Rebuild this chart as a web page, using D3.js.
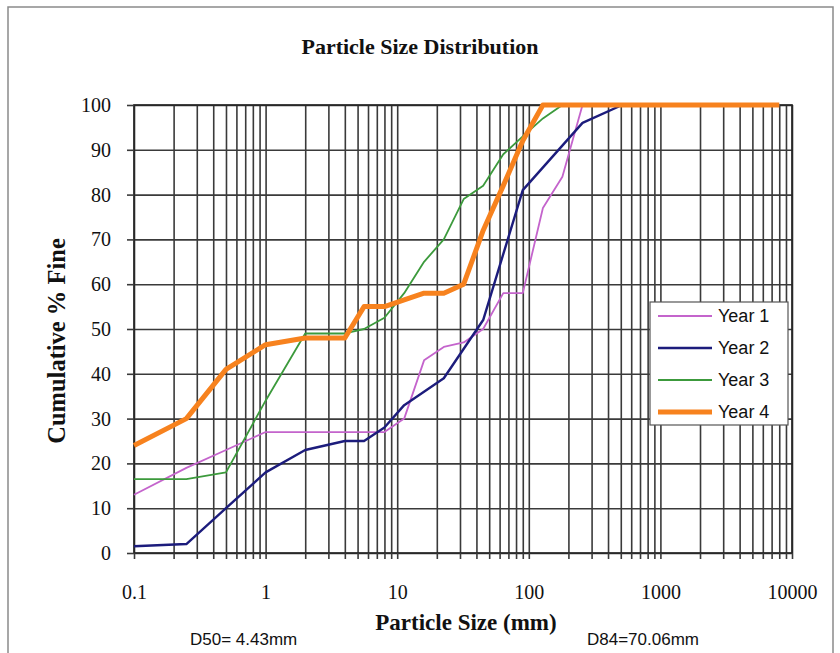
<!DOCTYPE html>
<html>
<head>
<meta charset="utf-8">
<script src="https://cdn.jsdelivr.net/npm/d3@7"></script>
<style>
  html, body { margin: 0; padding: 0; background: #fff; }
  svg { display: block; }
</style>
</head>
<body>
<svg id="chart" width="840" height="653"></svg>
<script>
// Sieve sizes (mm) and cumulative percent finer for each survey year
const year1Size = [0.1, 0.25, 0.5, 1, 2, 4, 5.6, 8, 11.3, 16, 22.6, 32, 45, 64, 90, 128, 180, 256, 8000];
const year1Pct  = [13, 19, 23, 27, 27, 27, 27, 27, 30, 43, 46, 47, 50, 58, 58, 77, 84, 100, 100];

const year2Size = [0.1, 0.25, 0.5, 1, 2, 4, 5.6, 8, 11.3, 22.6, 45, 90, 256, 512, 8000];
const year2Pct  = [1.5, 2, 10, 18, 23, 25, 25, 28, 33, 39, 52, 81, 96, 100, 100];

const year3Size = [0.1, 0.25, 0.5, 1, 2, 4, 5.6, 8, 11.3, 16, 22.6, 32, 45, 64, 90, 128, 180, 8000];
const year3Pct  = [16.5, 16.5, 18, 34, 49, 49, 50, 52.5, 58, 65, 70, 79, 82, 89, 93, 97, 100, 100];

const year4Size = [0.1, 0.25, 0.5, 1, 2, 4, 5.6, 8, 11.3, 16, 22.6, 32, 45, 64, 90, 128, 8000];
const year4Pct  = [24, 30, 41, 46.5, 48, 48, 55, 55, 56.5, 58, 58, 60, 72, 82, 92, 100, 100];

const seriesNames = ["Year 1", "Year 2", "Year 3", "Year 4"];
const seriesColors = ["#c464cc", "#1c1c7c", "#3c9a3c", "#f7821e"];
const seriesWidths = [1.8, 2.4, 1.8, 5];

const yTicks = [0, 10, 20, 30, 40, 50, 60, 70, 80, 90, 100];
const xTicks = [0.1, 1, 10, 100, 1000, 10000];
const xTickLabels = ["0.1", "1", "10", "100", "1000", "10000"];

const titleText = "Particle Size Distribution";
const xTitle = "Particle Size (mm)";
const yTitle = "Cumulative % Fine";
const d50Note = "D50= 4.43mm";
const d84Note = "D84=70.06mm";

const series = seriesNames.map((name, i) => {
  const sizes = [year1Size, year2Size, year3Size, year4Size][i];
  const pcts = [year1Pct, year2Pct, year3Pct, year4Pct][i];
  return { name, color: seriesColors[i], width: seriesWidths[i],
           points: sizes.map((s, j) => ({ size: s, pct: pcts[j] })) };
});

const svg = d3.select("#chart");
const serif = "'Liberation Serif', 'Times New Roman', serif";
const sans = "'Liberation Sans', Arial, sans-serif";

const plot = { left: 134, right: 792, top: 105, bottom: 553 };

const x = d3.scaleLog().domain([0.1, 10000]).range([plot.left, plot.right]);
const y = d3.scaleLinear().domain([0, 100]).range([plot.bottom, plot.top]);

// outer chart frame
svg.append("rect")
  .attr("x", 8).attr("y", 7).attr("width", 825).attr("height", 660)
  .attr("fill", "#fff").attr("stroke", "#8a8a8a").attr("stroke-width", 1.5);

// minor + major log gridline positions (1..9 per decade)
const gridX = [];
for (let e = -1; e < 4; e++) {
  for (let m = 1; m <= 9; m++) gridX.push(+(m * Math.pow(10, e)).toPrecision(3));
}
gridX.push(10000);

const gridColor = "#3a3a3a";
const gridWidth = 1.6;

// vertical gridlines
svg.append("g")
  .attr("transform", `translate(0,${plot.bottom})`)
  .call(d3.axisBottom(x).tickValues(gridX).tickSize(-(plot.bottom - plot.top)).tickFormat(""))
  .call(g => g.select(".domain").remove())
  .call(g => g.selectAll("line").attr("stroke", gridColor).attr("stroke-width", gridWidth));

// horizontal gridlines
svg.append("g")
  .attr("transform", `translate(${plot.left},0)`)
  .call(d3.axisLeft(y).tickValues(yTicks).tickSize(-(plot.right - plot.left)).tickFormat(""))
  .call(g => g.select(".domain").remove())
  .call(g => g.selectAll("line").attr("stroke", gridColor).attr("stroke-width", gridWidth));

// plot border
svg.append("rect")
  .attr("x", plot.left).attr("y", plot.top)
  .attr("width", plot.right - plot.left).attr("height", plot.bottom - plot.top)
  .attr("fill", "none").attr("stroke", "#262626").attr("stroke-width", 1.7);

// x axis ticks and labels
const labelFor = new Map(xTicks.map((v, i) => [v, xTickLabels[i]]));
svg.append("g")
  .attr("transform", `translate(0,${plot.bottom})`)
  .call(d3.axisBottom(x).tickValues(gridX).tickSize(6).tickPadding(26)
    .tickFormat(d => labelFor.has(d) ? labelFor.get(d) : ""))
  .call(g => g.select(".domain").remove())
  .call(g => g.selectAll("line").attr("stroke", gridColor).attr("stroke-width", gridWidth))
  .call(g => g.selectAll("text").attr("font-family", serif).attr("font-size", 20).attr("fill", "#111"));

// y axis ticks and labels
svg.append("g")
  .attr("transform", `translate(${plot.left},0)`)
  .call(d3.axisLeft(y).tickValues(yTicks).tickSize(7).tickPadding(16))
  .call(g => g.select(".domain").remove())
  .call(g => g.selectAll("line").attr("stroke", gridColor).attr("stroke-width", gridWidth))
  .call(g => g.selectAll("text").attr("font-family", serif).attr("font-size", 20).attr("fill", "#111"));

// data lines
const line = d3.line().x(d => x(d.size)).y(d => y(d.pct));
svg.append("g").selectAll("path")
  .data(series)
  .join("path")
  .attr("d", d => line(d.points))
  .attr("fill", "none")
  .attr("stroke", d => d.color)
  .attr("stroke-width", d => d.width)
  .attr("stroke-linejoin", "round");

// title and axis titles
svg.append("text")
  .attr("x", 420).attr("y", 54)
  .attr("text-anchor", "middle")
  .attr("font-family", serif).attr("font-weight", "bold").attr("font-size", 22)
  .attr("fill", "#111")
  .text(titleText);

svg.append("text")
  .attr("x", 466).attr("y", 630)
  .attr("text-anchor", "middle")
  .attr("font-family", serif).attr("font-weight", "bold").attr("font-size", 23)
  .attr("fill", "#111")
  .text(xTitle);

svg.append("text")
  .attr("transform", "translate(65,341) rotate(-90)")
  .attr("text-anchor", "middle")
  .attr("font-family", serif).attr("font-weight", "bold").attr("font-size", 24.5)
  .attr("fill", "#111")
  .text(yTitle);

// D50 / D84 notes
svg.append("text")
  .attr("x", 190).attr("y", 645)
  .attr("font-family", sans).attr("font-size", 17).attr("fill", "#111")
  .text(d50Note);
svg.append("text")
  .attr("x", 587).attr("y", 645)
  .attr("font-family", sans).attr("font-size", 17).attr("fill", "#111")
  .text(d84Note);

// legend
const legend = svg.append("g");
legend.append("rect")
  .attr("x", 650).attr("y", 302).attr("width", 138).attr("height", 123)
  .attr("fill", "#fff").attr("stroke", "#555").attr("stroke-width", 1.2);
const rows = legend.selectAll("g.row")
  .data(series)
  .join("g")
  .attr("class", "row")
  .attr("transform", (d, i) => `translate(0,${316 + i * 32})`);
rows.append("line")
  .attr("x1", 658).attr("x2", 712).attr("y1", 0).attr("y2", 0)
  .attr("stroke", d => d.color).attr("stroke-width", d => d.width);
rows.append("text")
  .attr("x", 718).attr("y", 0).attr("dy", "0.36em")
  .attr("font-family", sans).attr("font-size", 18).attr("fill", "#111")
  .text(d => d.name);
</script>
</body>
</html>
